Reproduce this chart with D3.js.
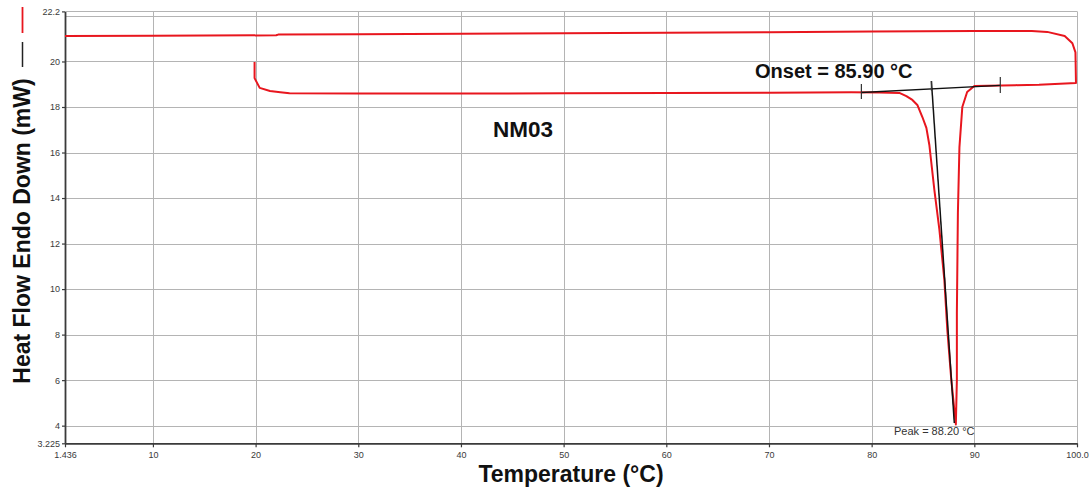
<!DOCTYPE html>
<html>
<head>
<meta charset="utf-8">
<script src="https://cdn.jsdelivr.net/npm/d3@7"></script>
<style>
  html, body { margin: 0; padding: 0; background: #fff; }
  svg { display: block; font-family: Arial, "Liberation Sans", sans-serif; }
</style>
</head>
<body>
<svg id="chart" width="1090" height="495"></svg>
<script>
// DSC thermogram of sample NM03: heating scan (with melting endotherm) and cooling return.
const heatTemp = [19.9, 19.9, 20.4, 21.4, 22.4, 23.3, 30, 40, 50, 60, 70, 78, 80.75, 82.7, 83.38, 83.97, 84.45, 84.94, 85.33, 85.62, 86.11, 86.6, 87.08, 87.37, 87.76, 88.2, 88.3, 88.3, 88.4, 88.55, 88.83, 89.3, 90.0, 94, 96.3, 99.9];
const heatFlow = [19.98, 19.27, 18.84, 18.70, 18.65, 18.60, 18.59, 18.59, 18.60, 18.61, 18.63, 18.65, 18.64, 18.62, 18.48, 18.31, 18.09, 17.56, 17.08, 16.33, 14.35, 12.60, 10.40, 8.20, 6.00, 4.05, 6.00, 8.95, 13.35, 16.24, 18.00, 18.66, 18.92, 18.96, 18.98, 19.05];
const coolTemp = [99.9, 99.85, 99.55, 98.8, 97.1, 95.6, 90, 80, 70, 60, 50, 40, 30, 22.2, 22.0, 10, 1.436];
const coolFlow = [19.05, 20.4, 20.8, 21.12, 21.30, 21.34, 21.34, 21.32, 21.28, 21.26, 21.24, 21.22, 21.20, 21.18, 21.15, 21.13, 21.12];

// Onset construction: extrapolated baseline and leading-edge tangent
const baseTemp = [79.0, 92.53];
const baseFlow = [18.64, 18.95];
const slopeTemp = [85.82, 88.05];
const slopeFlow = [19.14, 4.12];
const markerTemp = [79.0, 85.82, 92.53];
const markerLow = [18.35, 18.72, 18.62];
const markerHigh = [19.01, 19.14, 19.32];

const onsetText = "Onset = 85.90 °C";
const peakText = "Peak = 88.20 °C";
const sampleName = "NM03";

const xTicks = [1.436, 10, 20, 30, 40, 50, 60, 70, 80, 90, 100];
const xTickText = ["1.436", "10", "20", "30", "40", "50", "60", "70", "80", "90", "100.0"];
const yTicks = [3.225, 4, 6, 8, 10, 12, 14, 16, 18, 20, 22.2];
const yTickText = ["3.225", "4", "6", "8", "10", "12", "14", "16", "18", "20", "22.2"];
const yGrid = [4, 6, 8, 10, 12, 14, 16, 18, 20, 22, 22.2];
const xGrid = [10, 20, 30, 40, 50, 60, 70, 80, 90, 100];

const svg = d3.select("#chart");
const plotLeft = 65, plotRight = 1077, plotTop = 11.4, plotBottom = 443.3;

const x = d3.scaleLinear().domain([1.436, 100]).range([plotLeft, plotRight]);
const y = d3.scaleLinear().domain([3.225, 22.2]).range([plotBottom, plotTop]);

// grid
const grid = svg.append("g").attr("stroke", "#b4b4b4").attr("stroke-width", 1);
grid.selectAll("line.h").data(yGrid).join("line").attr("class", "h")
  .attr("x1", plotLeft).attr("x2", plotRight)
  .attr("y1", d => Math.round(y(d)) + 0.5).attr("y2", d => Math.round(y(d)) + 0.5);
grid.selectAll("line.v").data(xGrid).join("line").attr("class", "v")
  .attr("y1", plotTop).attr("y2", plotBottom)
  .attr("x1", d => Math.round(x(d)) + 0.5).attr("x2", d => Math.round(x(d)) + 0.5);

// axes
const xAxis = d3.axisBottom(x).tickValues(xTicks).tickFormat((d, i) => xTickText[i]).tickSize(4).tickSizeOuter(0);
const yAxis = d3.axisLeft(y).tickValues(yTicks).tickFormat((d, i) => yTickText[i]).tickSize(3).tickSizeOuter(0);

const gx = svg.append("g").attr("transform", `translate(0,${plotBottom})`).call(xAxis);
const gy = svg.append("g").attr("transform", `translate(${plotLeft},0)`).call(yAxis);
[gx, gy].forEach(g => {
  g.select(".domain").attr("stroke", "#3a3a3a").attr("stroke-width", 1.8);
  g.selectAll(".tick line").attr("stroke", "#3a3a3a").attr("stroke-width", 1.2);
  g.selectAll(".tick text").attr("fill", "#3a3a3a").attr("font-size", 9)
    .attr("font-family", "Arial, 'Liberation Sans', sans-serif");
});
gx.selectAll(".tick text").attr("dy", "1.05em").attr("y", 5);
gy.selectAll(".tick text").attr("x", -5);

// thermogram (heating leg followed by cooling leg, one continuous trace)
const line = d3.line().x(d => x(d[0])).y(d => y(d[1]));
const heating = heatTemp.map((t, i) => [t, heatFlow[i]]);
const cooling = coolTemp.map((t, i) => [t, coolFlow[i]]);

svg.append("path").datum(heating.concat(cooling)).attr("d", line)
  .attr("fill", "none").attr("stroke", "#e8161e").attr("stroke-width", 2)
  .attr("stroke-linejoin", "round");

// onset construction lines
const tangents = svg.append("g").attr("stroke", "#111").attr("stroke-width", 1.5).attr("fill", "none");
tangents.append("path").datum(baseTemp.map((t, i) => [t, baseFlow[i]])).attr("d", line);
tangents.append("path").datum(slopeTemp.map((t, i) => [t, slopeFlow[i]])).attr("d", line);
tangents.selectAll("line.mark").data(markerTemp).join("line").attr("class", "mark")
  .attr("stroke", "#333").attr("stroke-width", 1.2)
  .attr("x1", d => x(d)).attr("x2", d => x(d))
  .attr("y1", (d, i) => y(markerLow[i])).attr("y2", (d, i) => y(markerHigh[i]));

// annotations
svg.append("text").attr("x", 755).attr("y", 78).attr("font-size", 20).attr("font-weight", "bold")
  .attr("fill", "#111").text(onsetText);
svg.append("text").attr("x", 894).attr("y", 435).attr("font-size", 11)
  .attr("fill", "#333").text(peakText);
svg.append("text").attr("x", 493).attr("y", 137).attr("font-size", 22.5).attr("font-weight", "bold")
  .attr("fill", "#111").text(sampleName);

// axis titles
svg.append("text").attr("x", 571).attr("y", 482).attr("text-anchor", "middle")
  .attr("font-size", 23).attr("font-weight", "bold").attr("fill", "#111").text("Temperature (°C)");
svg.append("text").attr("transform", "translate(30,231) rotate(-90)").attr("text-anchor", "middle")
  .attr("font-size", 23).attr("font-weight", "bold").attr("fill", "#111").text("Heat Flow Endo Down (mW)");

// series key next to the y title
svg.append("line").attr("x1", 22.5).attr("x2", 22.5).attr("y1", 7).attr("y2", 33)
  .attr("stroke", "#e8161e").attr("stroke-width", 1.8);
svg.append("line").attr("x1", 22.5).attr("x2", 22.5).attr("y1", 42).attr("y2", 67)
  .attr("stroke", "#222").attr("stroke-width", 1.5);
</script>
</body>
</html>
